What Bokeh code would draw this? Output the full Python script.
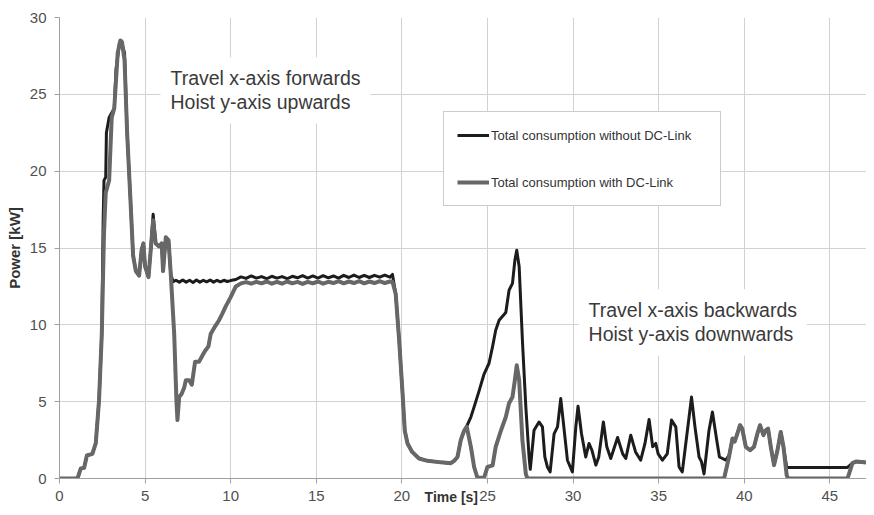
from bokeh.plotting import figure
from bokeh.models import Label, Legend, LegendItem, FixedTicker, Range1d
from bokeh.embed import file_html
from bokeh.resources import INLINE

# ---------------- data ----------------
x_ticks = [0, 5, 10, 15, 20, 25, 30, 35, 40, 45]
y_ticks = [0, 5, 10, 15, 20, 25, 30]

series_names = ["Total consumption without DC-Link", "Total consumption with DC-Link"]
note_forward = "Travel x-axis forwards\nHoist y-axis upwards"
note_backward = "Travel x-axis backwards\nHoist y-axis downwards"
x_title = "Time [s]"
y_title = "Power [kW]"

# Total consumption without DC-Link (black)
time_without = [
    0, 1.05, 1.24, 1.44, 1.6, 1.92, 2.12, 2.31, 2.47, 2.55, 2.6, 2.7, 2.74, 2.9, 3.2, 3.3, 3.5, 3.6, 3.8,
    3.95, 4.15, 4.3, 4.46, 4.65, 4.8, 4.9, 5.0, 5.2, 5.33, 5.47, 5.62, 5.82, 5.97, 6.05, 6.21, 6.37, 6.5,
    6.64, 6.8, 7.0, 7.2, 7.4, 7.6, 7.8, 8.0, 8.2, 8.4, 8.6, 8.8, 9.0, 9.2, 9.4, 9.6, 9.8, 10.0, 10.3,
    10.6, 10.9, 11.2, 11.5, 11.8, 12.1, 12.4, 12.7, 13.0, 13.3, 13.6, 13.9, 14.2, 14.5, 14.8, 15.1, 15.4,
    15.7, 16.0, 16.3, 16.6, 16.9, 17.2, 17.5, 17.8, 18.1, 18.4, 18.7, 19.0, 19.3, 19.45,
    19.64, 19.84, 20.03, 20.17, 20.33, 20.6, 21.0, 21.5, 22.27, 22.86, 23.05, 23.25, 23.44, 23.63,
    23.83, 24.03, 24.22, 24.51, 24.8, 25.09, 25.3, 25.48, 25.68, 26.07, 26.26, 26.46, 26.6, 26.71, 26.85,
    27.04, 27.24, 27.43, 27.5, 27.72, 28.01, 28.21, 28.35, 28.5, 28.66, 28.89, 29.09, 29.28, 29.46, 29.67,
    29.96, 30.16, 30.29, 30.49, 30.74, 30.93, 31.1, 31.33, 31.5, 31.77, 31.97, 32.2, 32.6, 32.9, 33.08,
    33.37, 33.65, 33.95, 34.2, 34.44, 34.65, 34.83, 34.97, 35.22, 35.5, 35.75, 36.0, 36.19, 36.38, 36.68,
    36.92, 37.12, 37.36, 37.5, 37.65, 37.94, 38.14, 38.39, 38.55, 38.73, 38.92, 39.11, 39.31, 39.44, 39.6,
    39.75, 39.88, 40.09, 40.34, 40.57, 40.77, 40.92, 41.12, 41.26, 41.39, 41.55, 41.74, 41.94, 42.13,
    42.29, 42.48, 46.03, 46.32, 46.52, 47.0, 47.6,
]
power_without = [
    0, 0, 0.65, 0.7, 1.5, 1.6, 2.3, 5.1, 9.4, 16.8, 19.4, 19.6, 22.5, 23.5, 24.1, 26.6, 28.3, 28.5, 27.7,
    22.5, 18.0, 14.5, 13.5, 13.2, 14.9, 15.3, 13.8, 13.1, 14.9, 17.2, 15.3, 15.1, 15.3, 13.5, 15.7, 15.5, 13.3,
    12.8, 12.9, 12.78, 12.92, 12.78, 12.9, 12.76, 12.92, 12.78, 12.9, 12.8, 12.92, 12.78, 12.9, 12.8, 12.9, 12.82, 12.88, 12.95,
    13.12, 13.02, 13.18, 13.04, 13.14, 13.0, 13.16, 13.04, 13.14, 13.0, 13.16, 13.06, 13.2, 13.04, 13.18, 13.04, 13.2,
    13.06, 13.18, 13.04, 13.22, 13.08, 13.24, 13.08, 13.22, 13.08, 13.22, 13.1, 13.24, 13.1, 13.28,
    12.0, 9.0, 5.7, 3.1, 2.28, 1.73, 1.3, 1.15, 1.05, 1.0, 1.15, 1.4, 2.5, 3.1,
    3.5, 4.0, 4.66, 5.7, 6.8, 7.5, 8.6, 9.65, 10.3, 10.8, 12.25, 12.7, 14.2, 14.85, 13.8,
    9.0, 4.66, 1.4, 0.6, 3.14, 3.68, 3.36, 1.4, 0.75, 0.43, 2.9, 3.36, 5.2, 3.36, 1.19,
    0.43, 3.36, 4.7, 2.93, 1.4, 2.28, 1.84, 0.87, 1.4, 3.68, 2.06, 1.3, 2.67, 1.6, 1.3,
    2.82, 1.73, 1.19, 2.28, 3.84, 2.06, 2.28, 1.6, 1.19, 1.6, 3.8, 3.36, 0.75, 0.43, 3.14,
    5.3, 3.36, 1.4, 1.1, 0.3, 3.14, 4.33, 2.5, 1.4, 1.3, 1.2, 1.5, 2.6, 2.4, 2.93,
    3.47, 3.25, 2.06, 1.84, 2.06, 2.93, 3.47, 2.82, 3.14, 3.25, 2.06, 0.87, 1.84, 3.03,
    2.06, 0.72, 0.72, 1.0, 1.1, 1.05, 1.0,
]

# Total consumption with DC-Link (grey)
time_with = [
    0, 1.05, 1.24, 1.44, 1.6, 1.92, 2.12, 2.31, 2.47, 2.6, 2.7, 2.9, 3.05, 3.2, 3.4, 3.55, 3.65, 3.8,
    3.95, 4.15, 4.3, 4.46, 4.65, 4.8, 4.9, 5.0, 5.2, 5.33, 5.47, 5.62, 5.82, 5.97, 6.05, 6.21, 6.37, 6.5,
    6.7, 6.83, 6.89, 6.99, 7.13, 7.28, 7.38, 7.57, 7.73, 7.92, 8.15, 8.35, 8.5, 8.7, 8.83, 9.09, 9.32,
    9.5, 9.71, 10.0, 10.3, 10.6, 10.9, 11.2, 11.5, 11.8, 12.1, 12.4, 12.7, 13.0, 13.3, 13.6, 13.9, 14.2,
    14.5, 14.8, 15.1, 15.4, 15.7, 16.0, 16.3, 16.6, 16.9, 17.2, 17.5, 17.8, 18.1, 18.4, 18.7, 19.0, 19.3, 19.45,
    19.64, 19.84, 20.03, 20.17, 20.33, 20.6, 21.0, 21.5, 22.27, 22.86, 23.05, 23.25, 23.44, 23.63,
    23.79, 24.03, 24.22, 24.41, 24.8, 25.0, 25.3, 25.48, 25.78, 26.07, 26.26, 26.46, 26.6, 26.71, 26.85,
    27.04, 27.24, 27.33, 38.82, 39.11, 39.31, 39.44, 39.6, 39.75, 39.88, 40.09, 40.34, 40.57, 40.77,
    40.92, 41.12, 41.26, 41.39, 41.55, 41.74, 41.94, 42.13, 42.29, 42.48, 42.56, 46.03, 46.32, 46.52,
    47.0, 47.6,
]
power_with = [
    0, 0, 0.65, 0.7, 1.5, 1.6, 2.3, 5.1, 9.4, 16.0, 18.6, 19.4, 23.5, 24.1, 27.7, 28.5, 28.4, 27.2,
    22.5, 18.0, 14.5, 13.5, 13.2, 14.9, 15.3, 13.8, 13.1, 14.9, 16.8, 15.3, 15.1, 15.3, 13.5, 15.7, 15.5, 13.3,
    9.4, 5.1, 3.8, 5.3, 5.5, 5.9, 6.4, 6.4, 6.1, 7.6, 7.6, 8.0, 8.3, 8.6, 9.4, 9.9, 10.3,
    10.7, 11.2, 11.8, 12.5, 12.7, 12.78, 12.68, 12.8, 12.7, 12.82, 12.68, 12.8, 12.68, 12.82, 12.7, 12.8, 12.66,
    12.8, 12.7, 12.82, 12.68, 12.8, 12.72, 12.84, 12.7, 12.82, 12.72, 12.84, 12.7, 12.82, 12.72, 12.84, 12.72, 12.82, 12.8,
    12.0, 9.0, 5.7, 3.1, 2.28, 1.73, 1.3, 1.15, 1.05, 1.0, 1.15, 1.4, 2.5, 3.1,
    3.36, 2.06, 0.75, 0.05, 0.05, 0.75, 0.85, 2.06, 3.1, 4.0, 4.9, 5.3, 6.4, 7.37, 6.4,
    2.5, 0.3, 0.0, 0.0, 1.4, 2.6, 2.4, 2.93, 3.47, 3.25, 2.06, 1.84, 2.06, 2.93,
    3.47, 2.82, 3.14, 3.25, 2.06, 0.87, 1.84, 3.03, 2.06, 0.2, 0.0, 0.0, 1.0, 1.1,
    1.05, 1.0,
]

# ---------------- figure ----------------
FONT = "Liberation Sans"

p = figure(width=866, height=507, output_backend="svg", toolbar_location=None,
           x_range=Range1d(0, 47.14), y_range=Range1d(0, 30),
           min_border_left=59, min_border_right=0, min_border_top=17, min_border_bottom=29)
p.outline_line_color = None
p.background_fill_color = "white"
p.border_fill_color = "white"

r_without = p.line(time_without, power_without, line_color="#1c1c1c", line_width=3, line_join="round")
r_with = p.line(time_with, power_with, line_color="#676767", line_width=4, line_join="round")

p.xaxis.ticker = FixedTicker(ticks=x_ticks)
p.yaxis.ticker = FixedTicker(ticks=y_ticks)
p.xgrid.grid_line_color = "#d2d2d2"
p.ygrid.grid_line_color = "#d2d2d2"

p.axis.axis_line_color = "#a0a0a0"
p.axis.major_tick_line_color = "#a0a0a0"
p.axis.major_tick_out = 5
p.axis.major_tick_in = 0
p.axis.minor_tick_out = 0
p.axis.minor_tick_in = 0
p.axis.major_label_text_font = FONT
p.axis.major_label_text_font_size = "15px"
p.axis.major_label_text_color = "#505050"
p.xaxis.major_label_standoff = 7
p.yaxis.major_label_standoff = 8

p.yaxis.axis_label = y_title
p.yaxis.axis_label_text_font = FONT
p.yaxis.axis_label_text_font_size = "15px"
p.yaxis.axis_label_text_font_style = "bold"
p.yaxis.axis_label_text_color = "#333333"
p.yaxis.axis_label_standoff = 4

# x title sits beside the tick labels, left of centre (trailing no-break spaces shift it left)
p.xaxis.axis_label = x_title + "\u00a0" * 6
p.xaxis.axis_label_text_font = FONT
p.xaxis.axis_label_text_font_size = "14px"
p.xaxis.axis_label_text_font_style = "bold"
p.xaxis.axis_label_text_color = "#333333"
p.xaxis.axis_label_standoff = -15

p.add_layout(Label(x=5.9, y=27.41, text=note_forward, text_font=FONT, text_font_size="19.5px",
                   text_color="#3a3a3a", text_align="left", text_baseline="top",
                   text_line_height=1.1, background_fill_color="white", padding=10))
p.add_layout(Label(x=30.32, y=12.32, text=note_backward, text_font=FONT, text_font_size="19.5px",
                   text_color="#3a3a3a", text_align="left", text_baseline="top",
                   text_line_height=1.1, background_fill_color="white", padding=10))

legend = Legend(items=[LegendItem(label=series_names[0], renderers=[r_without]),
                       LegendItem(label=series_names[1], renderers=[r_with])],
                location=(384, 272), orientation="vertical", padding=13, spacing=27, margin=0,
                glyph_width=32, glyph_height=20, label_height=20, label_width=216, label_standoff=2,
                label_text_font=FONT, label_text_font_size="13px", label_text_color="#333333",
                border_line_color="#999999", border_line_width=1, background_fill_color="white",
                background_fill_alpha=1.0)
p.add_layout(legend)

open("out.html", "w").write(file_html(p, INLINE))
